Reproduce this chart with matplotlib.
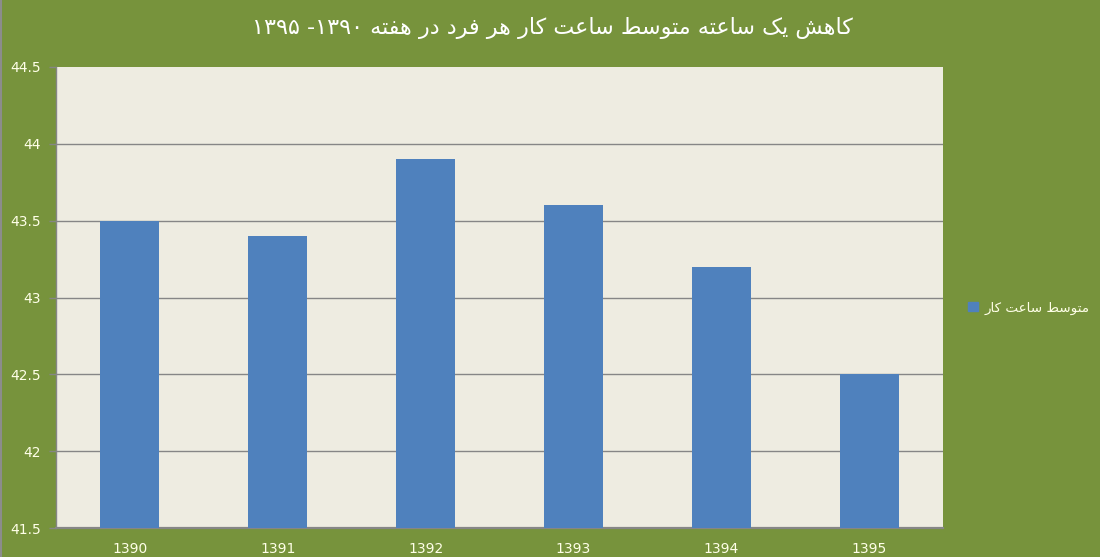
import matplotlib
matplotlib.use("Agg")
import matplotlib.pyplot as plt
from matplotlib.patches import Rectangle
from matplotlib.lines import Line2D

years = ["1390", "1391", "1392", "1393", "1394", "1395"]
hours = [43.5, 43.4, 43.9, 43.6, 43.2, 42.5]
yticks = [41.5, 42, 42.5, 43, 43.5, 44, 44.5]
title_text = "کاهش یک ساعته متوسط ساعت کار هر فرد در هفته ۱۳۹۰- ۱۳۹۵"
legend_text = "متوسط ساعت کار"

# --- minimal Persian shaping (presentation forms) + visual reordering ---
FORMS = {  # iso, fin, ini, med
    "ا": ("\uFE8D", "\uFE8E", None, None),
    "د": ("\uFEA9", "\uFEAA", None, None),
    "ر": ("\uFEAD", "\uFEAE", None, None),
    "و": ("\uFEED", "\uFEEE", None, None),
    "ت": ("\uFE95", "\uFE96", "\uFE97", "\uFE98"),
    "س": ("\uFEB1", "\uFEB2", "\uFEB3", "\uFEB4"),
    "ش": ("\uFEB5", "\uFEB6", "\uFEB7", "\uFEB8"),
    "ط": ("\uFEC1", "\uFEC2", "\uFEC3", "\uFEC4"),
    "ع": ("\uFEC9", "\uFECA", "\uFECB", "\uFECC"),
    "ف": ("\uFED1", "\uFED2", "\uFED3", "\uFED4"),
    "م": ("\uFEE1", "\uFEE2", "\uFEE3", "\uFEE4"),
    "ه": ("\uFEE9", "\uFEEA", "\uFEEB", "\uFEEC"),
    "ک": ("\uFB8E", "\uFB8F", "\uFB90", "\uFB91"),
    "ی": ("\uFBFC", "\uFBFD", "\uFBFE", "\uFBFF"),
}


def shape(s):
    out = []
    n = len(s)
    for i, c in enumerate(s):
        if c not in FORMS:
            out.append(c)
            continue
        f = FORMS[c]
        prev = s[i - 1] if i > 0 else None
        nxt = s[i + 1] if i < n - 1 else None
        jp = prev in FORMS and FORMS[prev][2] is not None
        jn = f[2] is not None and nxt in FORMS
        if jp and jn:
            out.append(f[3])
        elif jp:
            out.append(f[1])
        elif jn:
            out.append(f[2])
        else:
            out.append(f[0])
    r = "".join(out)[::-1]
    # restore digit runs to LTR order
    res, run = [], []
    for ch in r:
        if "\u06F0" <= ch <= "\u06F9" or ch.isdigit():
            run.append(ch)
        else:
            if run:
                res.extend(run[::-1]); run = []
            res.append(ch)
    if run:
        res.extend(run[::-1])
    return "".join(res)


GREEN = "#77933C"
PLOT_BG = "#EEECE1"
BAR = "#4F81BD"
GRID = "#868686"
TXT = "#FFFFE8"

plt.rcParams["font.family"] = ["DejaVu Sans", "Noto Sans"]

fig = plt.figure(figsize=(11, 5.57), dpi=100, facecolor=GREEN)
ax = fig.add_axes([56 / 1100, 29 / 557, 887 / 1100, 461 / 557])
ax.set_facecolor(PLOT_BG)

x = list(range(len(years)))
ax.bar(x, [h - yticks[0] for h in hours], bottom=yticks[0], width=0.4,
       color=BAR, zorder=3)

ax.set_xlim(-0.5, len(years) - 0.5)
ax.set_ylim(yticks[0], yticks[-1])
ax.set_yticks(yticks)
ax.set_yticklabels([f"{v:g}" for v in yticks])
ax.set_xticks(x)
ax.set_xticklabels(years)

for v in yticks[1:-1]:
    ax.axhline(v, color=GRID, lw=1.0, zorder=1)

ax.tick_params(axis="y", length=5, width=1, color=GRID, pad=6,
               labelsize=10, labelcolor=TXT)
ax.tick_params(axis="x", length=0, pad=10, labelsize=10, labelcolor=TXT)

for sp in ["top", "right"]:
    ax.spines[sp].set_visible(False)
ax.spines["left"].set_color(GRID)
ax.spines["left"].set_linewidth(1.0)
ax.spines["bottom"].set_color(GRID)
ax.spines["bottom"].set_linewidth(1.6)

fig.text(552 / 1100, 1 - 28 / 557, shape(title_text), ha="center",
         va="center", fontsize=16, color="white")

handle = Rectangle((0, 0), 1, 1, color=BAR)
fig.legend([handle], [shape(legend_text)], loc="center left",
           bbox_to_anchor=(956 / 1100, 1 - 308 / 557), frameon=False,
           fontsize=9.7, labelcolor=TXT, handlelength=0.7, handleheight=0.7,
           handletextpad=0.5)

fig.add_artist(Line2D([0.5 / 1100, 0.5 / 1100], [0, 1], transform=fig.transFigure,
                      color="#8C8C8C", lw=1.5))

fig.savefig("out.png", dpi=100, facecolor=GREEN)
